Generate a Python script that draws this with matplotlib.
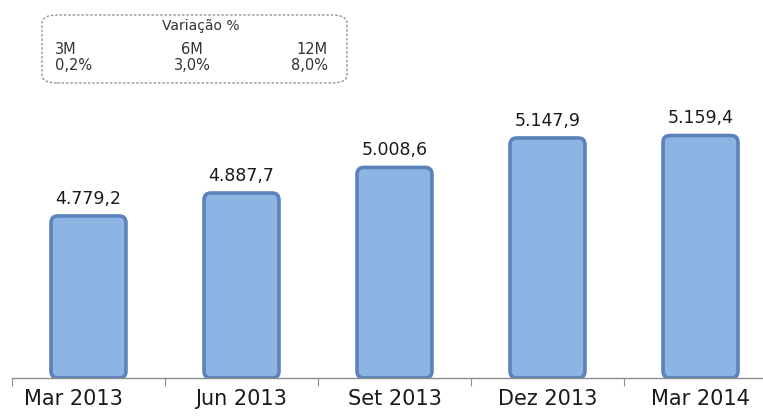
import matplotlib
matplotlib.use("Agg")
import matplotlib.pyplot as plt
import matplotlib.transforms as mtransforms
from matplotlib.patches import FancyBboxPatch
import numpy as np

categories = ["Mar 2013", "Jun 2013", "Set 2013", "Dez 2013", "Mar 2014"]
values = [4779.2, 4887.7, 5008.6, 5147.9, 5159.4]
value_labels = ["4.779,2", "4.887,7", "5.008,6", "5.147,9", "5.159,4"]
var_periods = ["3M", "6M", "12M"]
var_values = ["0,2%", "3,0%", "8,0%"]

plt.rcParams['font.family'] = ['DejaVu Sans']

W, H = 763, 416
fig = plt.figure(figsize=(W/100, H/100), dpi=100)
ax = fig.add_axes([12/W, 38/H, 751/W, 278/H])

x = np.arange(len(categories))
ybase = 4013
yscale = 0.2115  # px per unit
bars = ax.bar(x, np.array(values) - ybase, bottom=ybase, width=0.49, color='none', edgecolor='none')

for s in ['top', 'right', 'left']:
    ax.spines[s].set_visible(False)
ax.spines['bottom'].set_color('#8c8c8c')
ax.spines['bottom'].set_linewidth(1.0)
ax.set_yticks([])
ax.set_xticks(np.arange(len(categories)) - 0.5, minor=False)
ax.set_xticklabels([])
ax.tick_params(axis='x', which='major', direction='out', length=6, color='#8c8c8c')
ax.set_xticks(x, minor=True)
ax.set_xticklabels(categories, minor=True, fontsize=15, color='#1a1a1a')
ax.tick_params(axis='x', which='minor', length=0, pad=8)

ax.set_xlim(-0.5, -0.5 + 751/153)
ax.set_ylim(ybase, ybase + 278/yscale)
ax.set_autoscale_on(False)

# first category label sits slightly left of its bar in the reference
first = ax.get_xticklabels(minor=True)[0]
first.set_transform(first.get_transform() + mtransforms.ScaledTranslation(-0.15, 0, fig.dpi_scale_trans))

for b, lab in zip(bars, value_labels):
    bx, by, bw, bh = b.get_x(), b.get_y(), b.get_width(), b.get_height()
    p = FancyBboxPatch((bx, by), bw, bh, boxstyle="round,pad=0,rounding_size=0.045",
                       mutation_aspect=153/yscale,
                       facecolor='#8DB4E3', edgecolor='#5B82BA', linewidth=2.6)
    ax.add_patch(p)
    ax.text(bx + bw/2, by + bh + 38, lab, ha='center', va='bottom', fontsize=12.5, color='#1a1a1a')

# Variation box
bx0, by0, bw0, bh0 = 42/W, 1 - 83/H, 305/W, 68/H
box = FancyBboxPatch((bx0, by0), bw0, bh0, boxstyle="round,pad=0,rounding_size=0.02",
                     transform=fig.transFigure, facecolor='white', edgecolor='#8a8a8a',
                     linewidth=0.9, linestyle=(0, (2, 1.5)))
fig.add_artist(box)
fig.text(201/W, 1 - 26/H, "Variação %", ha='center', va='center', fontsize=10, color='#333333')
col_x = [(55/W, 'left'), (192/W, 'center'), (328/W, 'right')]
for (cx, ha), per, val in zip(col_x, var_periods, var_values):
    fig.text(cx, 1 - 50/H, per, ha=ha, va='center', fontsize=10.5, color='#333333')
    fig.text(cx, 1 - 66/H, val, ha=ha, va='center', fontsize=10.5, color='#333333')

fig.savefig("out.png", dpi=100)
